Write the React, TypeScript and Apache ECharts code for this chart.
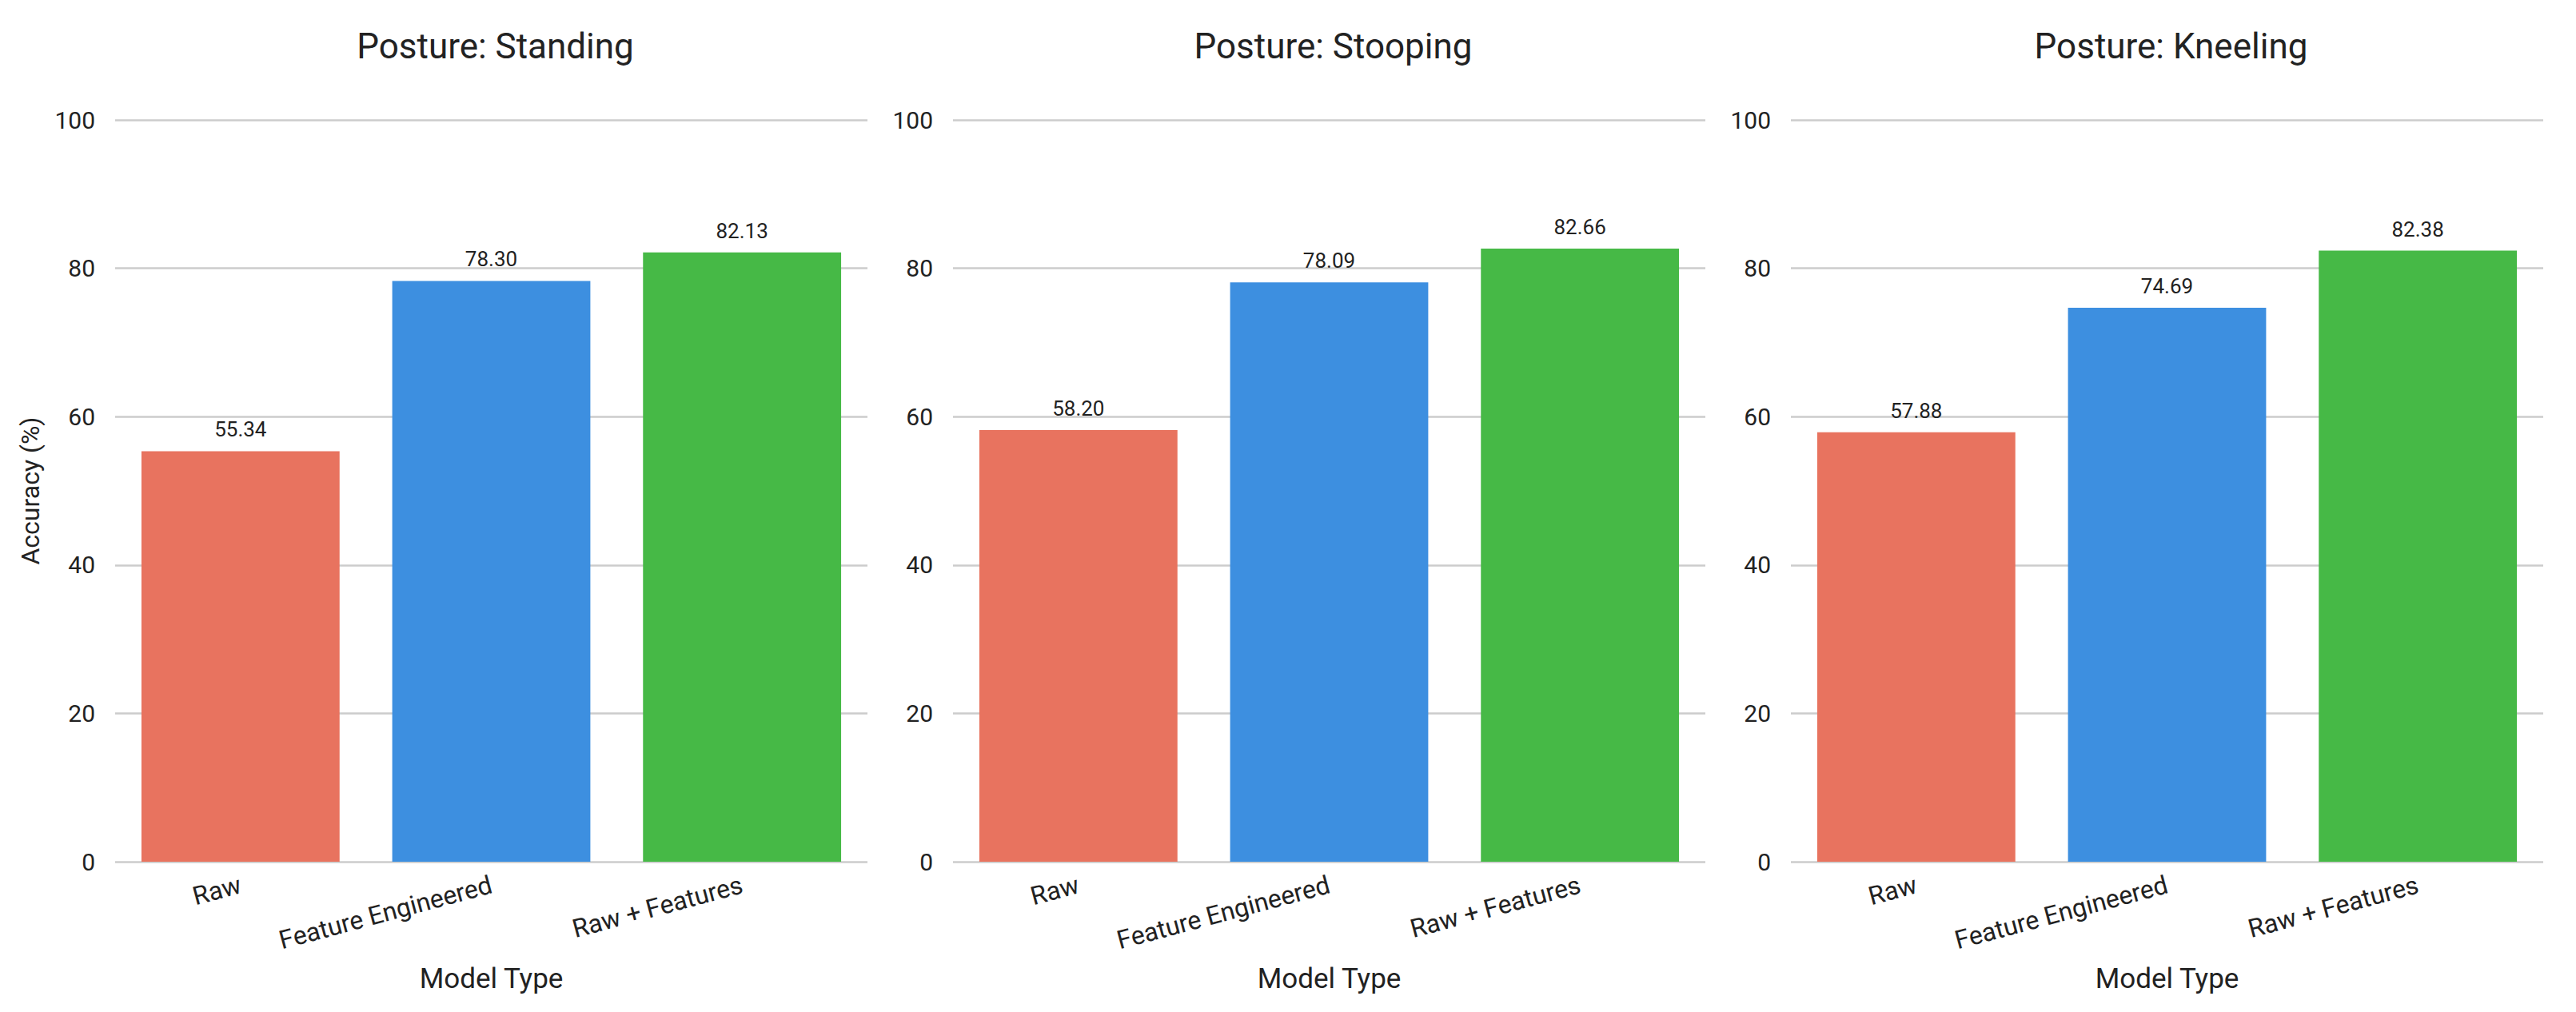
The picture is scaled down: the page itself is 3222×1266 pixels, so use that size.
import React, { useEffect, useRef } from "react";
import * as echarts from "echarts";

const postureTitles = ["Posture: Standing", "Posture: Stooping", "Posture: Kneeling"];
const modelTypes = ["Raw", "Feature Engineered", "Raw + Features"];
const standingAcc = [55.34, 78.3, 82.13];
const stoopingAcc = [58.2, 78.09, 82.66];
const kneelingAcc = [57.88, 74.69, 82.38];
const barColors = ["#E8735F", "#3D8FE0", "#46B946"];
const yMin = 0;
const yMax = 100;
const yInterval = 20;
const yAxisTitle = "Accuracy (%)";
const xAxisTitle = "Model Type";

const panelValues = [standingAcc, stoopingAcc, kneelingAcc];

const FONT = "Roboto, 'Noto Sans', sans-serif";
const TEXT = "#222222";
const GRIDC = "#cccccc";

export default function App() {
  const ref = useRef<HTMLDivElement>(null);
  useEffect(() => {
    document.body.style.margin = "0";
    if (!ref.current) return;
    const chart = echarts.init(ref.current, undefined, { renderer: "svg" });
    const lefts = [144, 1192, 2240];
    const gw = 941;
    const top = 150;
    const gh = 928;

    const grids = lefts.map((l) => ({ left: l, top, width: gw, height: gh, containLabel: false }));
    const titles = postureTitles.map((t, i) => ({
      text: t,
      left: lefts[i] + gw / 2,
      top: 31,
      textAlign: "center",
      textStyle: { fontFamily: FONT, fontSize: 44, fontWeight: "normal", color: TEXT },
    }));
    const xAxes = lefts.map((_, i) => ({
      type: "category",
      gridIndex: i,
      data: modelTypes,
      axisLine: { show: false },
      axisTick: { show: false },
      axisLabel: {
        rotate: 15,
        margin: 28,
        fontFamily: FONT,
        fontSize: 32,
        color: TEXT,
        interval: 0,
      },
      name: xAxisTitle,
      nameLocation: "middle",
      nameGap: 146,
      nameTextStyle: { fontFamily: FONT, fontSize: 35, color: TEXT, verticalAlign: "middle" },
    }));
    const yAxes = lefts.map((_, i) => ({
      type: "value",
      gridIndex: i,
      min: yMin,
      max: yMax,
      interval: yInterval,
      axisLine: { show: false },
      axisTick: { show: false },
      splitLine: { show: true, lineStyle: { color: GRIDC, width: 2.5 } },
      axisLabel: { margin: 25, fontFamily: FONT, fontSize: 30, color: TEXT },
      name: i === 0 ? yAxisTitle : "",
      nameLocation: "middle",
      nameGap: 106,
      nameRotate: 90,
      nameTextStyle: { fontFamily: FONT, fontSize: 32, color: TEXT, verticalAlign: "middle" },
    }));
    const series = panelValues.map((vals, i) => ({
      type: "bar",
      xAxisIndex: i,
      yAxisIndex: i,
      barCategoryGap: "21%",
      data: vals.map((v, j) => ({ value: v, itemStyle: { color: barColors[j] } })),
      label: {
        show: true,
        position: "top",
        distance: 14,
        formatter: (p: any) => Number(p.value).toFixed(2),
        fontFamily: FONT,
        fontSize: 26,
        color: TEXT,
      },
    }));

    chart.setOption({
      animation: false,
      backgroundColor: "#ffffff",
      title: titles,
      grid: grids,
      xAxis: xAxes,
      yAxis: yAxes,
      series,
    });
    return () => chart.dispose();
  }, []);
  return <div ref={ref} style={{ width: 3222, height: 1266 }} />;
}
